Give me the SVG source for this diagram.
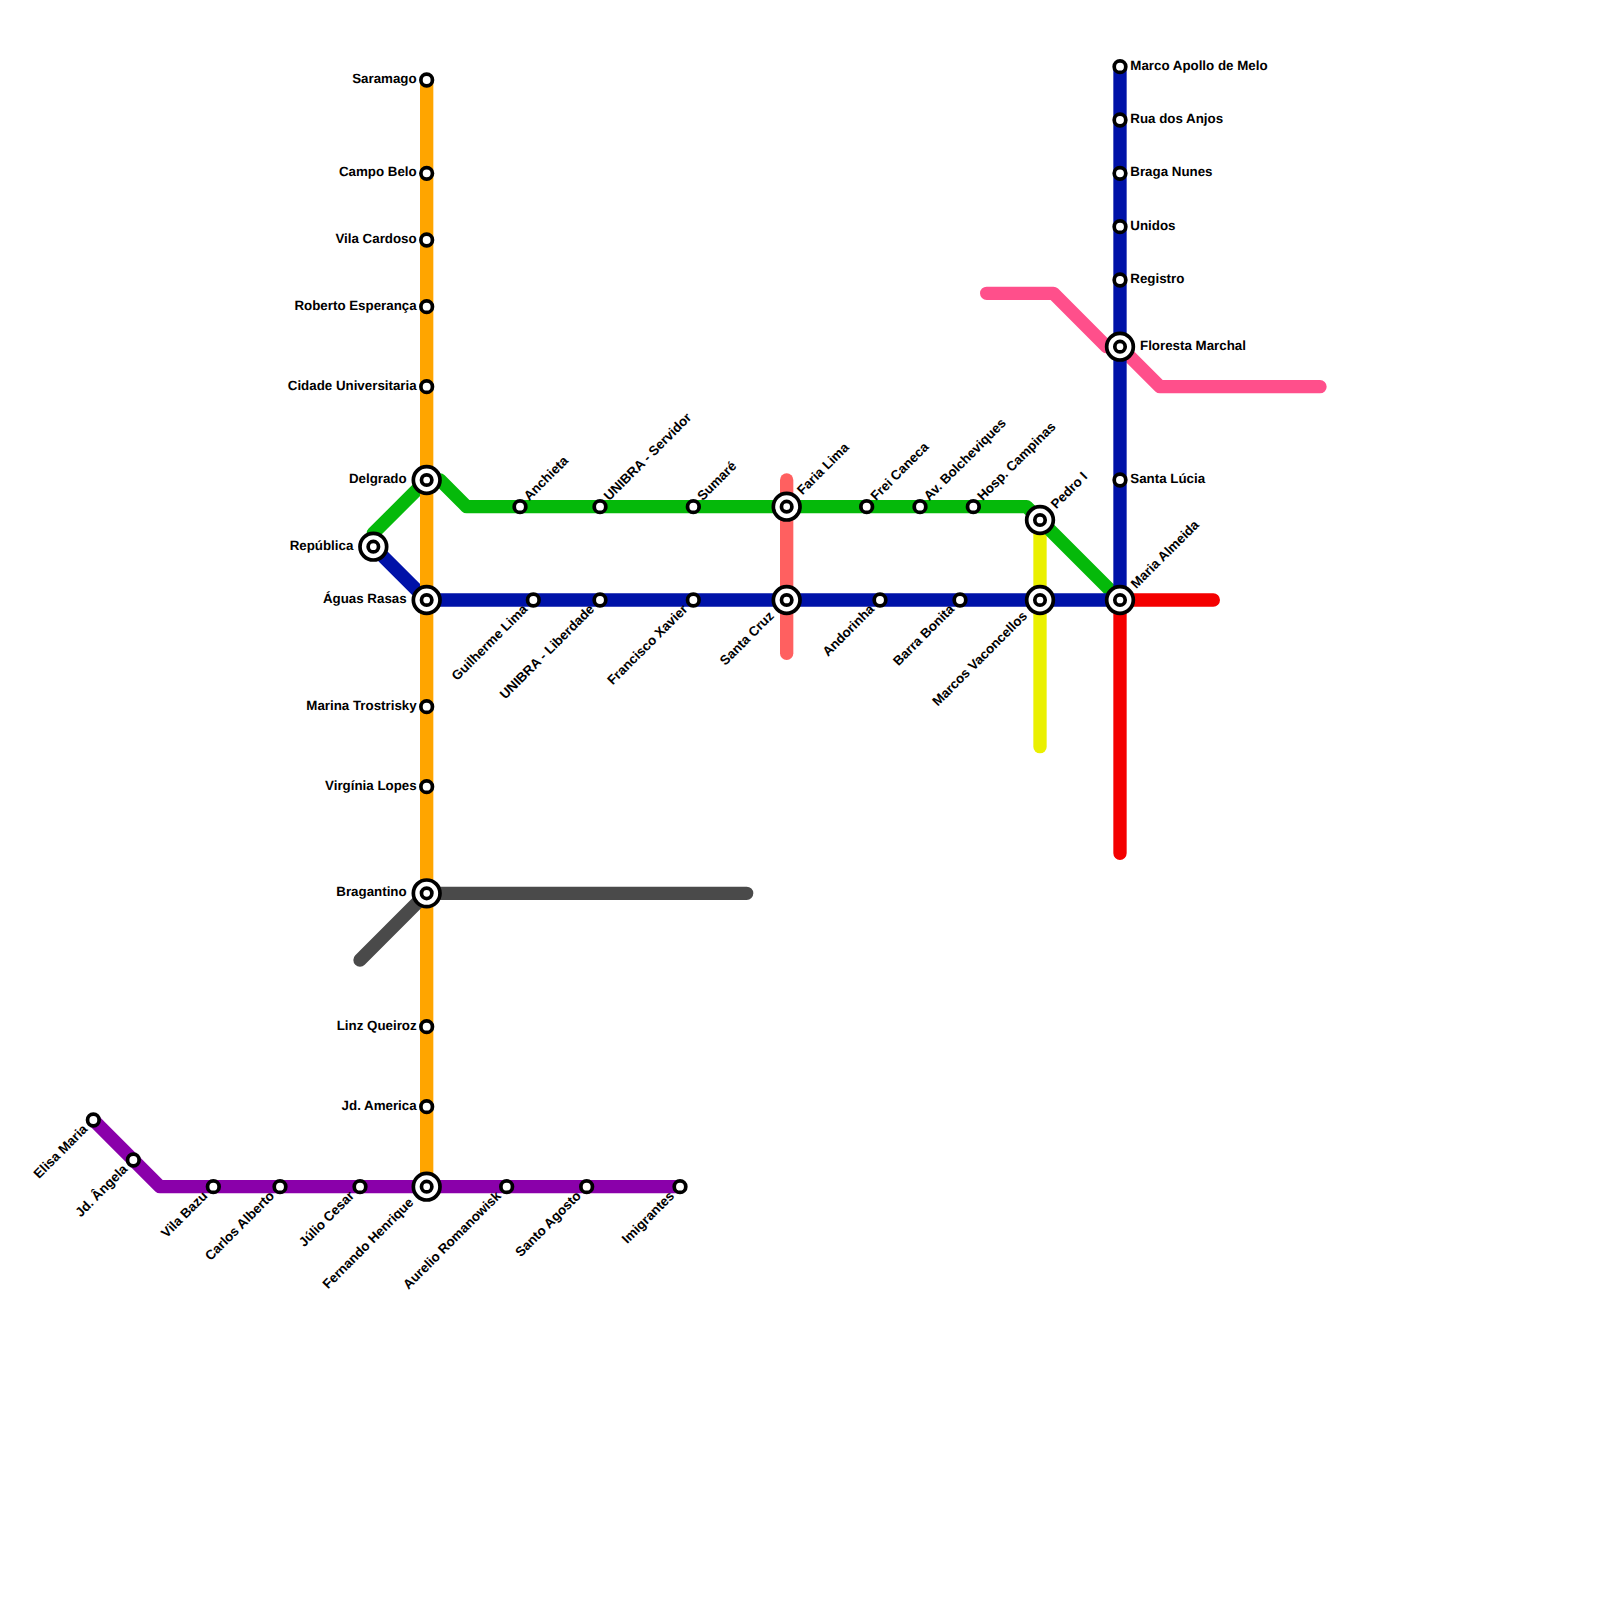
<svg xmlns="http://www.w3.org/2000/svg" width="1600" height="1600" viewBox="0 0 1600 1600">
<style>
.l{fill:none;stroke-width:13.33;stroke-linecap:round;stroke-linejoin:round}
.s{fill:#fff;stroke:#000;stroke-width:3.7}
.t{font-family:"Liberation Sans",Arial,sans-serif;font-weight:bold;font-size:13.33px;fill:#000;text-rendering:geometricPrecision}
.e{text-anchor:end}
</style>
<rect width="1600" height="1600" fill="#fff"/>
<g id="connectors">
<path class="l" stroke="#ff4f8b" d="M986.67 293.33H1053.33L1106.67 346.67H1120L1160 386.67H1320"/>
<path class="l" stroke="#ff6060" d="M786.67 480V653.33"/>
<path class="l" stroke="#eaf000" d="M1040 520V746.67"/>
<path class="l" stroke="#f40000" d="M1120 853.33V600H1213.33"/>
<path class="l" stroke="#05b90a" d="M373.33 533.33L426.67 480H440L466.67 506.67H1026.67L1040 520L1120 600"/>
<path class="l" stroke="#0012a8" d="M373.33 546.67L426.67 600H1120V66.67"/>
<path class="l" stroke="#ffa500" d="M426.67 80V1186.67"/>
<path class="l" stroke="#4a4a4a" d="M360 960L426.67 893.33H746.67"/>
<path class="l" stroke="#8a00aa" d="M93.33 1120L160 1186.67H680"/>
</g>
<g id="n1"><circle class="s" cx="426.67" cy="80" r="5.8"/><text class="t e" x="416.67" y="83">Saramago</text></g>
<g id="n2"><circle class="s" cx="426.67" cy="173.33" r="5.8"/><text class="t e" x="416.67" y="176.3">Campo Belo</text></g>
<g id="n3"><circle class="s" cx="426.67" cy="240" r="5.8"/><text class="t e" x="416.67" y="243">Vila Cardoso</text></g>
<g id="n4"><circle class="s" cx="426.67" cy="306.67" r="5.8"/><text class="t e" x="416.67" y="309.7">Roberto Esperança</text></g>
<g id="n5"><circle class="s" cx="426.67" cy="386.67" r="5.8"/><text class="t e" x="416.67" y="389.7">Cidade Universitaria</text></g>
<g id="n6"><circle class="s" cx="426.67" cy="480" r="13.33"/><circle class="s" cx="426.67" cy="480" r="5.2"/><text class="t e" x="406.67" y="483">Delgrado</text></g>
<g id="n7"><circle class="s" cx="373.33" cy="546.67" r="13.33"/><circle class="s" cx="373.33" cy="546.67" r="5.2"/><text class="t e" x="353.33" y="549.7">República</text></g>
<g id="n8"><circle class="s" cx="426.67" cy="600" r="13.33"/><circle class="s" cx="426.67" cy="600" r="5.2"/><text class="t e" x="406.67" y="603">Águas Rasas</text></g>
<g id="n9"><circle class="s" cx="426.67" cy="706.67" r="5.8"/><text class="t e" x="416.67" y="709.7">Marina Trostrisky</text></g>
<g id="n10"><circle class="s" cx="426.67" cy="786.67" r="5.8"/><text class="t e" x="416.67" y="789.7">Virgínia Lopes</text></g>
<g id="n11"><circle class="s" cx="426.67" cy="893.33" r="13.33"/><circle class="s" cx="426.67" cy="893.33" r="5.2"/><text class="t e" x="406.67" y="896.3">Bragantino</text></g>
<g id="n12"><circle class="s" cx="426.67" cy="1026.67" r="5.8"/><text class="t e" x="416.67" y="1029.7">Linz Queiroz</text></g>
<g id="n13"><circle class="s" cx="426.67" cy="1106.67" r="5.8"/><text class="t e" x="416.67" y="1109.7">Jd. America</text></g>
<g id="n14"><circle class="s" cx="426.67" cy="1186.67" r="13.33"/><circle class="s" cx="426.67" cy="1186.67" r="5.2"/><text class="t e" transform="translate(414.3 1203.2) rotate(-45)">Fernando Henrique</text></g>
<g id="n15"><circle class="s" cx="93.33" cy="1120" r="5.8"/><text class="t e" transform="translate(88.3 1130) rotate(-45)">Elisa Maria</text></g>
<g id="n16"><circle class="s" cx="133.33" cy="1160" r="5.8"/><text class="t e" transform="translate(128.3 1170) rotate(-45)">Jd. Ângela</text></g>
<g id="n17"><circle class="s" cx="213.33" cy="1186.67" r="5.8"/><text class="t e" transform="translate(208.3 1196.67) rotate(-45)">Vila Bazu</text></g>
<g id="n18"><circle class="s" cx="280" cy="1186.67" r="5.8"/><text class="t e" transform="translate(275 1196.67) rotate(-45)">Carlos Alberto</text></g>
<g id="n19"><circle class="s" cx="360" cy="1186.67" r="5.8"/><text class="t e" transform="translate(355 1196.67) rotate(-45)">Júlio Cesar</text></g>
<g id="n20"><circle class="s" cx="506.67" cy="1186.67" r="5.8"/><text class="t e" transform="translate(501.67 1196.67) rotate(-45)">Aurelio Romanowisk</text></g>
<g id="n21"><circle class="s" cx="586.67" cy="1186.67" r="5.8"/><text class="t e" transform="translate(581.67 1196.67) rotate(-45)">Santo Agosto</text></g>
<g id="n22"><circle class="s" cx="680" cy="1186.67" r="5.8"/><text class="t e" transform="translate(675 1196.67) rotate(-45)">Imigrantes</text></g>
<g id="n23"><circle class="s" cx="520" cy="506.67" r="5.8"/><text class="t" transform="translate(529.3 501.3) rotate(-45)">Anchieta</text></g>
<g id="n24"><circle class="s" cx="600" cy="506.67" r="5.8"/><text class="t" transform="translate(609.3 501.3) rotate(-45)">UNIBRA - Servidor</text></g>
<g id="n25"><circle class="s" cx="693.33" cy="506.67" r="5.8"/><text class="t" transform="translate(702.63 501.3) rotate(-45)">Sumaré</text></g>
<g id="n26"><circle class="s" cx="786.67" cy="506.67" r="13.33"/><circle class="s" cx="786.67" cy="506.67" r="5.2"/><text class="t" transform="translate(802.5 495.5) rotate(-45)">Faria Lima</text></g>
<g id="n27"><circle class="s" cx="866.67" cy="506.67" r="5.8"/><text class="t" transform="translate(875.97 501.3) rotate(-45)">Frei Caneca</text></g>
<g id="n28"><circle class="s" cx="920" cy="506.67" r="5.8"/><text class="t" transform="translate(929.3 501.3) rotate(-45)">Av. Bolcheviques</text></g>
<g id="n29"><circle class="s" cx="973.33" cy="506.67" r="5.8"/><text class="t" transform="translate(982.63 501.3) rotate(-45)">Hosp. Campinas</text></g>
<g id="n30"><circle class="s" cx="1040" cy="520" r="13.33"/><circle class="s" cx="1040" cy="520" r="5.2"/><text class="t" transform="translate(1056.2 509.4) rotate(-45)">Pedro I</text></g>
<g id="n31"><circle class="s" cx="533.33" cy="600" r="5.8"/><text class="t e" transform="translate(528.3 610) rotate(-45)">Guilherme Lima</text></g>
<g id="n32"><circle class="s" cx="600" cy="600" r="5.8"/><text class="t e" transform="translate(595 610) rotate(-45)">UNIBRA - Liberdade</text></g>
<g id="n33"><circle class="s" cx="693.33" cy="600" r="5.8"/><text class="t e" transform="translate(688.3 610) rotate(-45)">Francisco Xavier</text></g>
<g id="n34"><circle class="s" cx="786.67" cy="600" r="13.33"/><circle class="s" cx="786.67" cy="600" r="5.2"/><text class="t e" transform="translate(774.6 616.7) rotate(-45)">Santa Cruz</text></g>
<g id="n35"><circle class="s" cx="880" cy="600" r="5.8"/><text class="t e" transform="translate(875 610) rotate(-45)">Andorinha</text></g>
<g id="n36"><circle class="s" cx="960" cy="600" r="5.8"/><text class="t e" transform="translate(955 610) rotate(-45)">Barra Bonita</text></g>
<g id="n37"><circle class="s" cx="1040" cy="600" r="13.33"/><circle class="s" cx="1040" cy="600" r="5.2"/><text class="t e" transform="translate(1027.9 616.7) rotate(-45)">Marcos Vaconcellos</text></g>
<g id="n38"><circle class="s" cx="1120" cy="600" r="13.33"/><circle class="s" cx="1120" cy="600" r="5.2"/><text class="t" transform="translate(1136.2 589.2) rotate(-45)">Maria Almeida</text></g>
<g id="n39"><circle class="s" cx="1120" cy="66.67" r="5.8"/><text class="t" x="1130.3" y="69.7">Marco Apollo de Melo</text></g>
<g id="n40"><circle class="s" cx="1120" cy="120" r="5.8"/><text class="t" x="1130.3" y="123">Rua dos Anjos</text></g>
<g id="n41"><circle class="s" cx="1120" cy="173.33" r="5.8"/><text class="t" x="1130.3" y="176.3">Braga Nunes</text></g>
<g id="n42"><circle class="s" cx="1120" cy="226.67" r="5.8"/><text class="t" x="1130.3" y="229.7">Unidos</text></g>
<g id="n43"><circle class="s" cx="1120" cy="280" r="5.8"/><text class="t" x="1130.3" y="283">Registro</text></g>
<g id="n44"><circle class="s" cx="1120" cy="346.67" r="13.33"/><circle class="s" cx="1120" cy="346.67" r="5.2"/><text class="t" x="1140" y="349.7">Floresta Marchal</text></g>
<g id="n45"><circle class="s" cx="1120" cy="480" r="5.8"/><text class="t" x="1130.3" y="483">Santa Lúcia</text></g>
</svg>
